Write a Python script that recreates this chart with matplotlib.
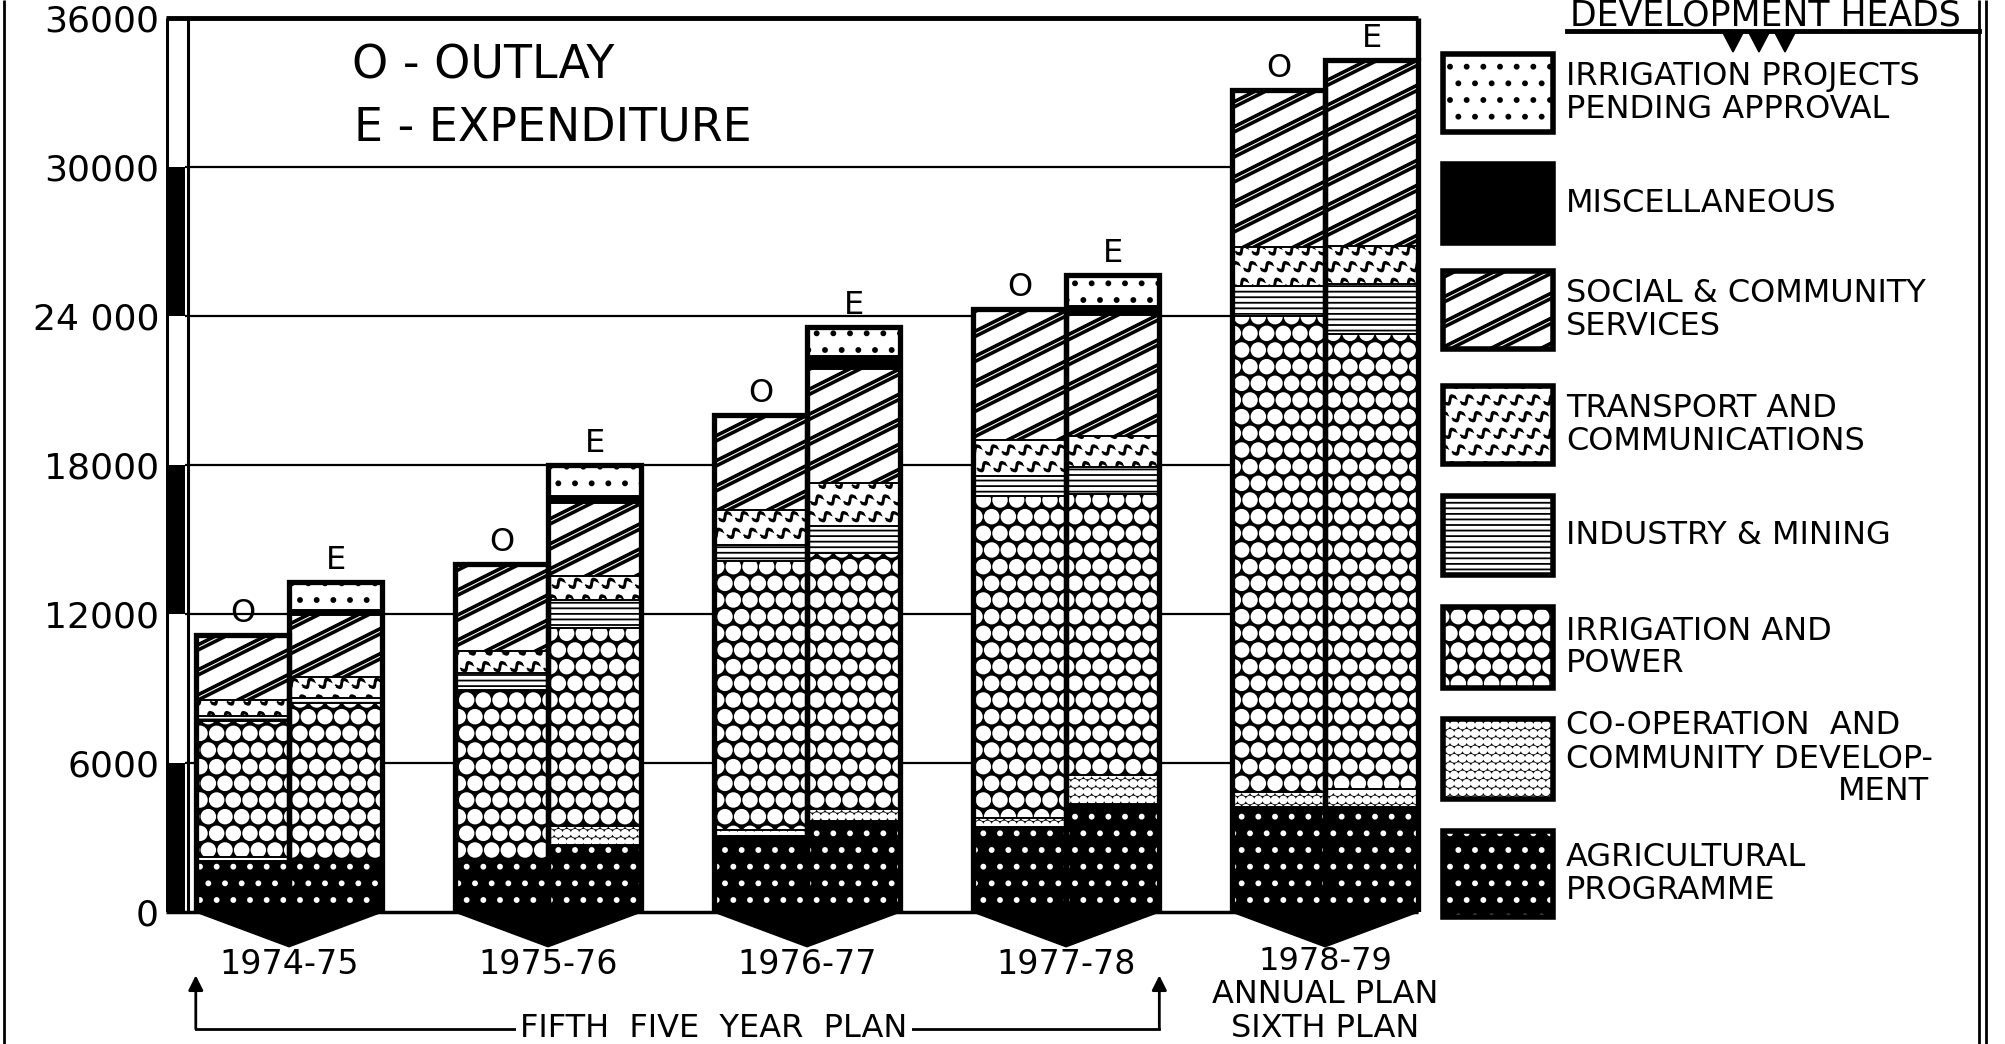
import numpy as np
import matplotlib
matplotlib.use("Agg")
import matplotlib.pyplot as plt
import matplotlib.hatch as mhatch
from matplotlib.path import Path
from matplotlib.patches import Rectangle, Polygon

# ---------------------------------------------------------------- data
years = ["1974-75", "1975-76", "1976-77", "1977-78", "1978-79"]
y_ticks = [0, 6000, 12000, 18000, 24000, 30000, 36000]
y_tick_labels = ["0", "6000", "12000", "18000", "24 000", "30000", "36000"]

# Outlay (O) and expenditure (E) by development head, bottom of stack first
agri_outlay = [2050, 2000, 3060, 3420, 4230]
agri_exp = [2050, 2700, 3670, 4330, 4230]
coop_outlay = [150, 100, 240, 360, 600]
coop_exp = [100, 760, 490, 1170, 730]
irr_outlay = [5500, 6850, 10830, 12980, 19170]
irr_exp = [6250, 7970, 10300, 11330, 18330]
ind_outlay = [200, 680, 660, 810, 1210]
ind_exp = [200, 1130, 1090, 1080, 1980]
trans_outlay = [650, 880, 1410, 1440, 1570]
trans_exp = [880, 970, 1730, 1260, 1530]
social_outlay = [2600, 3490, 3800, 5280, 6310]
social_exp = [2480, 2940, 4600, 4870, 7520]
misc_outlay = [0, 0, 0, 0, 0]
misc_exp = [200, 280, 510, 360, 0]
pending_outlay = [0, 0, 0, 0, 0]
pending_exp = [1140, 1250, 1150, 1260, 0]

head_names = ["agri", "coop", "irr", "ind", "trans", "social", "misc", "pending"]
outlay = {"agri": agri_outlay, "coop": coop_outlay, "irr": irr_outlay,
          "ind": ind_outlay, "trans": trans_outlay, "social": social_outlay,
          "misc": misc_outlay, "pending": pending_outlay}
expend = {"agri": agri_exp, "coop": coop_exp, "irr": irr_exp,
          "ind": ind_exp, "trans": trans_exp, "social": social_exp,
          "misc": misc_exp, "pending": pending_exp}

legend_order = ["pending", "misc", "social", "trans", "ind", "irr", "coop", "agri"]
legend_text = {
    "pending": ["IRRIGATION PROJECTS", "PENDING APPROVAL"],
    "misc": ["MISCELLANEOUS"],
    "social": ["SOCIAL & COMMUNITY", "SERVICES"],
    "trans": ["TRANSPORT AND", "COMMUNICATIONS"],
    "ind": ["INDUSTRY & MINING"],
    "irr": ["IRRIGATION AND", "POWER"],
    "coop": ["CO-OPERATION  AND", "COMMUNITY DEVELOP-", "MENT"],
    "agri": ["AGRICULTURAL", "PROGRAMME"],
}

# ------------------------------------------------------ fill textures
# Large circles become filled "cobbles"; small dots kept fine.
mhatch.LargeCircles.filled = True
mhatch.LargeCircles.size = 0.41
mhatch.SmallFilledCircles.size = 0.12

# '*' draws short tilted wavy strokes instead of stars.
def _worm_init(self, hatch, density):
    self.num_rows = hatch.count('*') * density
    t = np.linspace(-1, 1, 16)
    cy = 0.45 * np.sin(np.pi * t)
    th = 0.16
    verts = np.concatenate([np.column_stack([t, cy + th]),
                            np.column_stack([t[::-1], cy[::-1] - th])])
    ang = np.deg2rad(28)
    rot = np.array([[np.cos(ang), -np.sin(ang)], [np.sin(ang), np.cos(ang)]])
    self.shape_vertices = verts @ rot.T
    codes = np.full(len(verts), Path.LINETO, dtype=Path.code_type)
    codes[0] = Path.MOVETO
    self.shape_codes = codes
    mhatch.Shapes.__init__(self, hatch, density)

mhatch.Stars.__init__ = _worm_init
mhatch.Stars.size = 0.36

# '/' alone draws shallow heavy double stripes.
_ne_init_orig = mhatch.NorthEastHatch.__init__
_ne_set_orig = mhatch.NorthEastHatch.set_vertices_and_codes
_stripe_offsets = (0.0, 0.01, 0.02, 0.052, 0.062, 0.072)

def _ne_init(self, hatch, density):
    n = hatch.count('/')
    self._stripes = n > 0 and 'x' not in hatch.lower()
    if self._stripes:
        self.num_lines = 4 * n
        self.num_stripes = int(1.5 * self.num_lines) + 1
        self.num_vertices = self.num_stripes * 2 * len(_stripe_offsets)
    else:
        _ne_init_orig(self, hatch, density)

def _ne_set(self, vertices, codes):
    if not getattr(self, "_stripes", False):
        return _ne_set_orig(self, vertices, codes)
    step = 1.0 / self.num_lines
    k = 0
    for c in -0.5 + step * np.arange(self.num_stripes):
        for off in _stripe_offsets:
            vertices[k] = (0.0, c + off)
            vertices[k + 1] = (1.0, c + off + 0.5)
            codes[k] = Path.MOVETO
            codes[k + 1] = Path.LINETO
            k += 2

mhatch.NorthEastHatch.__init__ = _ne_init
mhatch.NorthEastHatch.set_vertices_and_codes = _ne_set

plt.rcParams["hatch.linewidth"] = 1.3
plt.rcParams["font.family"] = ["DejaVu Sans"]

styles = {
    "agri": dict(face="black", hc="white", hatch="."),
    "coop": dict(face="black", hc="white", hatch="OO"),
    "irr": dict(face="black", hc="white", hatch="O"),
    "ind": dict(face="white", hc="black", hatch="---"),
    "trans": dict(face="white", hc="black", hatch="*"),
    "social": dict(face="white", hc="black", hatch="/"),
    "misc": dict(face="black", hc="black", hatch=None),
    "pending": dict(face="white", hc="black", hatch="."),
}

# ---------------------------------------------------------------- figure
W, H = 2005, 1044
fig = plt.figure(figsize=(W / 100, H / 100), dpi=100)
fig.patch.set_facecolor("white")

ax_l, ax_r, ax_t, ax_b = 166, 1423, 18, 912
ax = fig.add_axes([ax_l / W, 1 - ax_b / H, (ax_r - ax_l) / W, (ax_b - ax_t) / H])
xmin, xmax = -0.475, 4.378
ax.set_xlim(xmin, xmax)
ax.set_ylim(0, 36000)
for s in ax.spines.values():
    s.set_visible(False)
ax.set_xticks([])
ax.set_yticks(y_ticks)
ax.set_yticklabels(y_tick_labels)
ax.tick_params(axis="y", length=0, pad=5, labelsize=26)

x = np.arange(len(years))
w = 0.36

# left scale strip
strip_w = 0.073
for i in range(0, len(y_ticks) - 1, 2):
    ax.add_patch(Rectangle((xmin, y_ticks[i]), strip_w, y_ticks[i + 1] - y_ticks[i],
                           facecolor="black", edgecolor="none", zorder=3, clip_on=False))
ax.vlines([xmin + 0.002, xmin + strip_w + 0.012], 0, 36000, colors="black", lw=2.2, zorder=3)

# grid lines
ax.hlines(y_ticks[1:-1], xmin + strip_w, x[-1] - w, colors="black", lw=1.6, zorder=1)
ax.hlines(36000, xmin, x[-1] + w, colors="black", lw=3.5, zorder=4, clip_on=False)
ax.hlines(0, xmin, x[-1] + w, colors="black", lw=2.5, zorder=4, clip_on=False)


def set_hlw(artists, lw):
    for a in artists:
        if hasattr(a, "set_hatch_linewidth"):
            a.set_hatch_linewidth(lw)


def draw_stack(xpos, table):
    bottom = np.zeros(len(years))
    for name in head_names:
        vals = np.array(table[name], dtype=float)
        st = styles[name]
        bars = ax.bar(xpos, vals, width=w, bottom=bottom, color=st["face"],
                      edgecolor=st["hc"], hatch=st["hatch"], linewidth=0, zorder=2)
        set_hlw(bars, 1.3)
        ax.bar(xpos, vals, width=w, bottom=bottom, fill=False, edgecolor="black",
               linewidth=1.2, zorder=3)
        bottom = bottom + vals
    ax.bar(xpos, bottom, width=w, fill=False, edgecolor="black", linewidth=3.8, zorder=4)
    return bottom


tot_o = draw_stack(x - w / 2, outlay)
tot_e = draw_stack(x + w / 2, expend)

# O / E markers above the bars
for i in range(len(years)):
    ax.text(x[i] - w / 2, tot_o[i] + 250, "O", ha="center", va="bottom", fontsize=23, zorder=5)
    if i < len(years) - 1:
        ax.text(x[i] + w / 2, tot_e[i] + 250, "E", ha="center", va="bottom", fontsize=23, zorder=5)
ax.vlines(x[-1] + w, tot_e[-1], 36000, colors="black", lw=3.8, zorder=4)
ax.text(x[-1] + w / 2, (tot_e[-1] + 36000) / 2, "E", ha="center", va="center", fontsize=23, zorder=5)

# chevrons under each pair
for i in range(len(years)):
    ax.add_patch(Polygon([(x[i] - w, 0), (x[i], -1400), (x[i] + w, 0)], closed=True,
                         facecolor="black", edgecolor="black", lw=1, zorder=4, clip_on=False))

# category labels
for i in range(len(years) - 1):
    ax.text(x[i], -2130, years[i], ha="center", va="center", fontsize=24, clip_on=False)
ax.text(x[-1], -2010, years[-1], ha="center", va="center", fontsize=23, clip_on=False)
ax.text(x[-1], -3340, "ANNUAL PLAN", ha="center", va="center", fontsize=23, clip_on=False)
ax.text(x[-1], -4710, "SIXTH PLAN", ha="center", va="center", fontsize=23, clip_on=False)

# plan bracket
x_left, x_right = x[0] - w, x[3] + w
ax.plot([x_left, x_right], [-4710, -4710], color="black", lw=2, clip_on=False)
for xa in (x_left, x_right):
    ax.annotate("", xy=(xa, -2550), xytext=(xa, -4710), annotation_clip=False,
                arrowprops=dict(arrowstyle="-|>", color="black", lw=2,
                                mutation_scale=22, shrinkA=0, shrinkB=0))
ax.text(1.64, -4710, "FIFTH  FIVE  YEAR  PLAN", ha="center", va="center", fontsize=23,
        bbox=dict(facecolor="white", edgecolor="none", pad=3), clip_on=False, zorder=5)

# key for O / E
ax.text(xmin + (352 - ax_l) / 259, 36000 - (66 - ax_t) * 40.27, "O - OUTLAY",
        ha="left", va="center", fontsize=33, zorder=5)
ax.text(xmin + (354 - ax_l) / 259, 36000 - (128 - ax_t) * 40.27, "E - EXPENDITURE",
        ha="left", va="center", fontsize=33, zorder=5)

# ---------------------------------------------------------------- legend
lax = fig.add_axes([0, 0, 1, 1], zorder=-1)
lax.set_xlim(0, W)
lax.set_ylim(H, 0)
lax.axis("off")

lax.vlines(4, 0, H, colors="black", lw=2)
lax.vlines([1979, 1986], 0, H, colors="black", lw=2)

lax.text(1570, 25, "DEVELOPMENT HEADS", ha="left", va="baseline", fontsize=25)
lax.plot([1567, 1979], [31, 31], color="black", lw=3.5)
for cx in (1733, 1759, 1785):
    lax.add_patch(Polygon([(cx - 11, 31), (cx + 11, 31), (cx, 52)], closed=True,
                          facecolor="black", edgecolor="black"))

sw_x, sw_w = 1443, 110
sw_tops = [54, 164, 271, 386, 496, 607, 719, 831]
sw_h = [78, 79, 78, 78, 79, 81, 80, 86]
line_gap = 33
for name, top, h in zip(legend_order, sw_tops, sw_h):
    st = styles[name]
    r = Rectangle((sw_x, top), sw_w, h, facecolor=st["face"], edgecolor=st["hc"],
                  hatch=st["hatch"], linewidth=0)
    lax.add_patch(r)
    set_hlw([r], 1.3)
    lax.add_patch(Rectangle((sw_x, top), sw_w, h, fill=False, edgecolor="black", linewidth=4))
    lines = legend_text[name]
    yc = top + h / 2
    n = len(lines)
    for k, txt in enumerate(lines):
        yy = yc + (k - (n - 1) / 2) * line_gap
        if name == "coop" and k == 2:
            lax.text(1929, yy, txt, ha="right", va="center", fontsize=23)
        else:
            lax.text(1566, yy, txt, ha="left", va="center", fontsize=23)

fig.savefig("out.png", dpi=100, facecolor="white")
